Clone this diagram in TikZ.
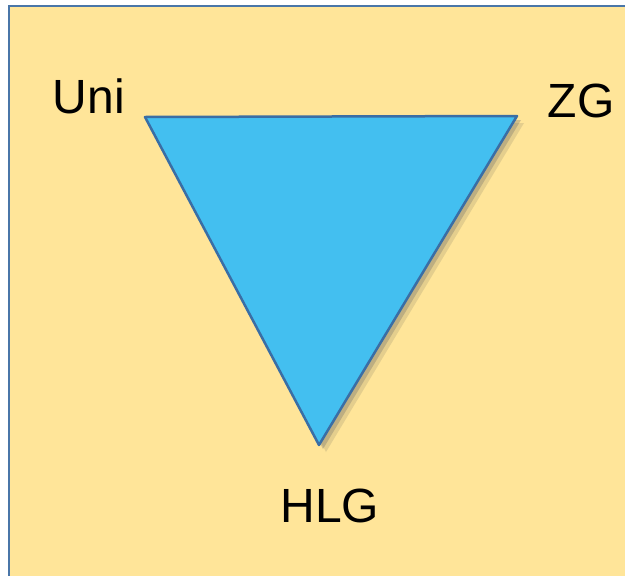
\documentclass[tikz,border=0pt]{standalone}
\usepackage{fontspec}
\setmainfont{Liberation Sans}
\usetikzlibrary{shadows}
\definecolor{paper}{HTML}{FFE599}
\definecolor{frameblue}{HTML}{4A76A8}
\definecolor{skyfill}{HTML}{43BFF0}
\definecolor{edgeblue}{HTML}{3A6EA5}

\begin{document}
\begin{tikzpicture}
	[x=1pt,y=-1pt,
	frame/.style={draw=frameblue,line width=2.5pt,fill=paper},
	corner/.style={anchor=base,text=black,font=\fontsize{48}{58}\selectfont},
	wedge/.style={draw=edgeblue,line width=2.5pt,fill=skyfill,line join=round,
		drop shadow={shadow xshift=7pt,shadow yshift=-7pt,opacity=0.15,fill=black!70},
		drop shadow={shadow xshift=4pt,shadow yshift=-4pt,opacity=0.3,fill=black!60}}]

	\useasboundingbox (0,0) rectangle (625,576);
	\clip (0,0) rectangle (625,576);

	% Draw the background frame
	\draw[frame] (9,6) rectangle (660,610);

	% Draw the triangle corners
	\coordinate (uni) at (145,117);
	\coordinate (zg) at (517,116);
	\coordinate (hlg) at (319,445);

	% Draw the triangle
	\path[wedge] (uni) -- (zg) -- (hlg) -- cycle;

	% Draw the corner labels
	\node[corner] (unilabel) at (89,113) {Uni};
	\node[corner] (zglabel) at (581,117) {ZG};
	\node[corner] (hlglabel) at (330,522) {HLG};
\end{tikzpicture}
\end{document}
